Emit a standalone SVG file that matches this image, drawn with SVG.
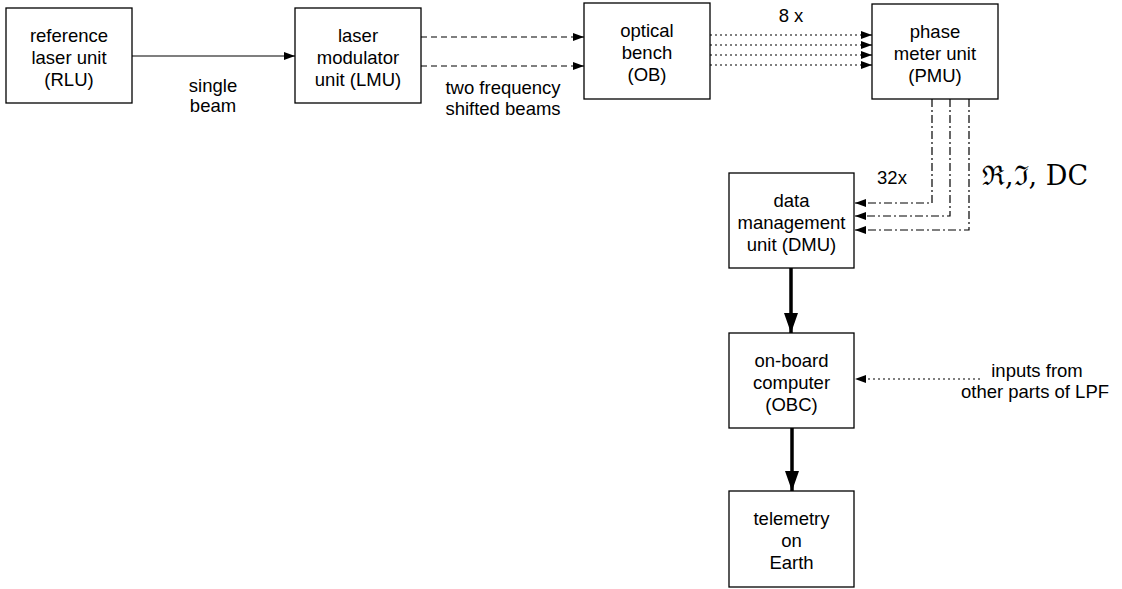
<svg xmlns="http://www.w3.org/2000/svg" width="1122" height="589" viewBox="0 0 1122 589">
<style>
.box{fill:#fff;stroke:#000;stroke-width:1.3}
.t{font-family:"Liberation Sans",Arial,sans-serif;font-size:18.5px;fill:#000;text-anchor:middle}
.ln{fill:none;stroke:#000;stroke-width:1.2}
.dash{stroke-dasharray:6,4}
.dot{stroke-dasharray:2,3}
.dd{stroke-dasharray:8,3,2,3}
.thick{fill:none;stroke:#000;stroke-width:3.5}
</style>
<defs>
<marker id="a" markerUnits="userSpaceOnUse" markerWidth="11" markerHeight="8" refX="11" refY="4" orient="auto"><path d="M0,0 L11,4 L0,8 z" fill="#000"/></marker>
<marker id="b" markerUnits="userSpaceOnUse" markerWidth="20" markerHeight="14" refX="20" refY="7" orient="auto"><path d="M0,0 L20,7 L0,14 z" fill="#000"/></marker>
</defs>
<g id="connectors">
<line class="ln" x1="132" y1="56" x2="295" y2="56" marker-end="url(#a)"/>
<line class="ln dash" x1="421" y1="37" x2="584" y2="37" marker-end="url(#a)"/>
<line class="ln dash" x1="421" y1="66" x2="584" y2="66" marker-end="url(#a)"/>
<line class="ln dot" x1="710" y1="35" x2="872" y2="35" marker-end="url(#a)"/>
<line class="ln dot" x1="710" y1="45" x2="872" y2="45" marker-end="url(#a)"/>
<line class="ln dot" x1="710" y1="55" x2="872" y2="55" marker-end="url(#a)"/>
<line class="ln dot" x1="710" y1="65" x2="872" y2="65" marker-end="url(#a)"/>
<path class="ln dd" d="M932,99 V203 H855" marker-end="url(#a)"/>
<path class="ln dd" d="M950,99 V216 H855" marker-end="url(#a)"/>
<path class="ln dd" d="M969,99 V230 H855" marker-end="url(#a)"/>
<line class="thick" x1="791" y1="268" x2="791" y2="333" marker-end="url(#b)"/>
<line class="thick" x1="792" y1="428" x2="792" y2="491" marker-end="url(#b)"/>
<line class="ln dot" x1="980" y1="379" x2="855" y2="379" marker-end="url(#a)"/>
<text class="t" x="213" y="92">single</text>
<text class="t" x="213" y="112">beam</text>
<text class="t" x="503" y="94">two frequency</text>
<text class="t" x="503" y="115">shifted beams</text>
<text class="t" x="791" y="22">8 x</text>
<text class="t" x="892" y="184">32x</text>
<text x="982" y="185" style="font-family:'DejaVu Serif','Liberation Serif',serif;font-size:27px">ℜ,ℑ, DC</text>
<text class="t" x="1037" y="377">inputs from</text>
<text class="t" x="1035" y="398">other parts of LPF</text>
</g>
<g id="RLU"><rect class="box" x="6" y="8" width="126" height="95"/>
<text class="t" x="69" y="41.5">reference</text><text class="t" x="69" y="63.5">laser unit</text><text class="t" x="69" y="85.5">(RLU)</text></g>
<g id="LMU"><rect class="box" x="295" y="8" width="126" height="95"/>
<text class="t" x="358" y="41.5">laser</text><text class="t" x="358" y="63.5">modulator</text><text class="t" x="358" y="85.5">unit (LMU)</text></g>
<g id="OB"><rect class="box" x="584" y="3" width="126" height="96"/>
<text class="t" x="647" y="37">optical</text><text class="t" x="647" y="59">bench</text><text class="t" x="647" y="81">(OB)</text></g>
<g id="PMU"><rect class="box" x="872" y="4" width="126" height="95"/>
<text class="t" x="935" y="37.5">phase</text><text class="t" x="935" y="59.5">meter unit</text><text class="t" x="935" y="81.5">(PMU)</text></g>
<g id="DMU"><rect class="box" x="729" y="173" width="125" height="95"/>
<text class="t" x="791.5" y="206.5">data</text><text class="t" x="791.5" y="228.5">management</text><text class="t" x="791.5" y="250.5">unit (DMU)</text></g>
<g id="OBC"><rect class="box" x="729" y="333" width="125" height="95"/>
<text class="t" x="791.5" y="366.5">on-board</text><text class="t" x="791.5" y="388.5">computer</text><text class="t" x="791.5" y="410.5">(OBC)</text></g>
<g id="TE"><rect class="box" x="729" y="491" width="125" height="96"/>
<text class="t" x="791.5" y="525">telemetry</text><text class="t" x="791.5" y="547">on</text><text class="t" x="791.5" y="569">Earth</text></g>
</svg>
